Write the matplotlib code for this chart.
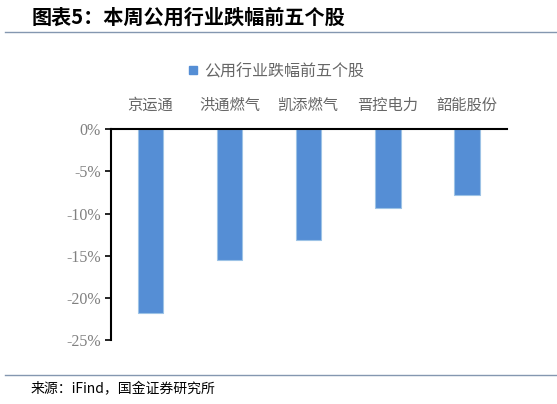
import matplotlib.pyplot as plt
from matplotlib.lines import Line2D
from matplotlib.ticker import FuncFormatter

plt.rcParams['font.family'] = ['Noto Sans CJK SC', 'DejaVu Sans']

stocks = ['京运通', '洪通燃气', '凯添燃气', '晋控电力', '韶能股份']
changes = [-21.8, -15.5, -13.1, -9.3, -7.8]
yticks = [0, -5, -10, -15, -20, -25]
series_name = '公用行业跌幅前五个股'

bar_color = '#558ed5'
grey = '#666666'

fig = plt.figure(figsize=(5.57, 4.04), dpi=100)
ax = fig.add_axes([0.1988, 0.1584, 0.711, 0.5216])

x = range(len(stocks))
ax.bar(x, changes, width=0.32, color=bar_color, edgecolor='#9dc3e6', linewidth=0.8)

ax.set_xlim(-0.5, len(stocks) - 0.5)
ax.set_ylim(-25, 0)
ax.set_yticks(yticks)
ax.yaxis.set_major_formatter(FuncFormatter(lambda v, p: '%d%%' % v))
for lab in ax.get_yticklabels():
    lab.set_family('Liberation Serif')
    lab.set_fontsize(11.5)
    lab.set_color('#808080')
ax.tick_params(axis='y', direction='out', length=4, width=1.2, color='black', pad=3)

# category labels sit above the zero line
ax.xaxis.tick_top()
ax.set_xticks(list(x))
ax.set_xticklabels(stocks, fontsize=11, color=grey)
ax.tick_params(axis='x', length=0, pad=11)

for s in ['right', 'bottom']:
    ax.spines[s].set_visible(False)
ax.spines['top'].set_linewidth(1.5)
ax.spines['left'].set_linewidth(1.5)

handle = Line2D([], [], marker='s', linestyle='none', markersize=6,
                color=bar_color)
fig.legend([handle], [series_name], loc='center', bbox_to_anchor=(0.495, 0.823),
           frameon=False, handletextpad=0.3, prop={'size': 11.5},
           labelcolor=grey, handlelength=0.8)

# header and footer
fig.text(0.057, 0.958, '图表5：本周公用行业跌幅前五个股', fontsize=14.5,
         fontweight='bold', style='italic', va='center', ha='left')
fig.add_artist(Line2D([0.009, 1.0], [0.922, 0.922], color='#8497b0', linewidth=1))
fig.add_artist(Line2D([0.009, 1.0], [0.072, 0.072], color='#8497b0', linewidth=1))
fig.text(0.054, 0.037, '来源：iFind，国金证券研究所', fontsize=10, va='center', ha='left')

fig.savefig('out.png', dpi=100)
